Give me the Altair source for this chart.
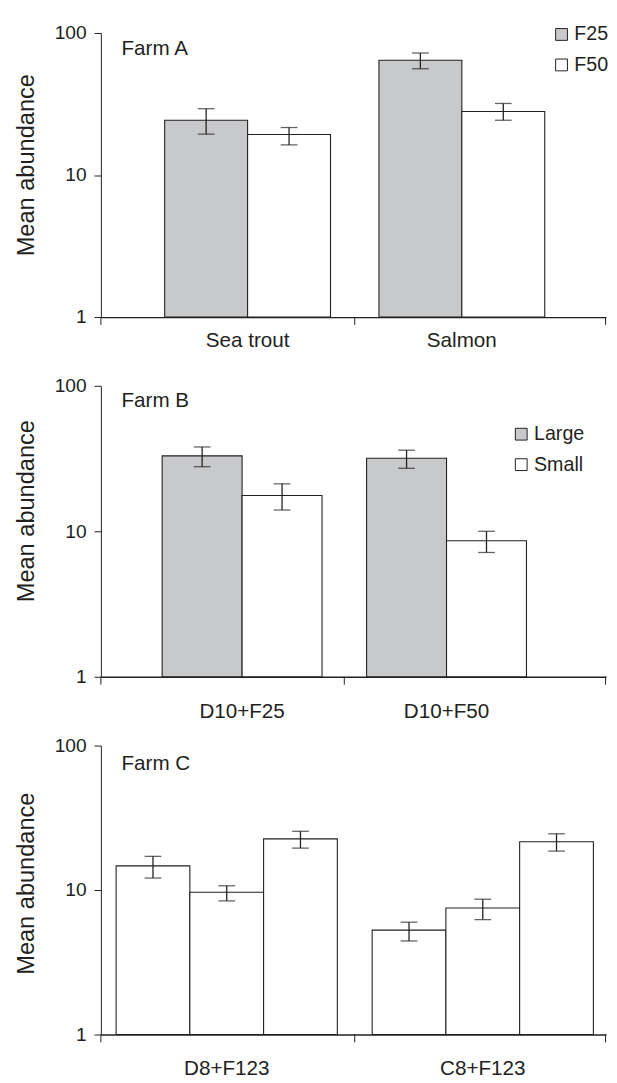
import altair as alt
import pandas as pd

FONT = "Liberation Sans"
INK = "#231f20"
GREY = "#c8c9cb"

# ---- Farm A ----
a_cats = ["Sea trout", "Salmon"]
a_series = ["F25", "F50"]
a_mean = {"F25": [24.3, 64.3], "F50": [19.3, 28.0]}
a_lo = {"F25": [19.4, 56.0], "F50": [16.3, 24.3]}
a_hi = {"F25": [29.3, 72.3], "F50": [21.6, 31.9]}

# ---- Farm B ----
b_cats = ["D10+F25", "D10+F50"]
b_series = ["Large", "Small"]
b_mean = {"Large": [33.0, 31.8], "Small": [17.6, 8.6]}
b_lo = {"Large": [27.8, 27.1], "Small": [14.0, 7.15]}
b_hi = {"Large": [38.0, 36.1], "Small": [21.2, 10.0]}

# ---- Farm C ----
c_cats = ["D8+F123", "C8+F123"]
c_series = ["1", "2", "3"]
c_mean = {"1": [14.7, 5.28], "2": [9.64, 7.5], "3": [22.6, 21.6]}
c_lo = {"1": [12.1, 4.44], "2": [8.41, 6.24], "3": [19.5, 18.6]}
c_hi = {"1": [17.1, 5.99], "2": [10.7, 8.64], "3": [25.5, 24.5]}

farms = ["Farm A", "Farm B", "Farm C"]
y_ticks = [1, 10, 100]

W = 514


def make_df(cats, series, mean, lo, hi):
    rows = []
    for s in series:
        for i, c in enumerate(cats):
            rows.append({"cat": c, "series": s, "mean": mean[s][i],
                         "lo": lo[s][i], "hi": hi[s][i]})
    return pd.DataFrame(rows)


def band_gap_mid(n, pi, po, align):
    step = W / (n - pi + 2 * po)
    start = (W - step * (n - pi)) * align
    bw = step * (1 - pi)
    return start + bw + step * pi / 2


def panel(df, cats, series, colors, farm, H, pi, po, align, legend_xy=None,
          farm_y=22, label_pad=13, title_y=134):
    xs = alt.X("cat:N", sort=cats,
               scale=alt.Scale(paddingInner=pi, paddingOuter=po, align=align),
               axis=alt.Axis(title=None, labelAngle=0, ticks=False,
                             labelPadding=label_pad, labelFontSize=21,
                             domainWidth=1.3))
    xo = alt.XOffset("series:N", sort=series,
                     scale=alt.Scale(paddingInner=0, paddingOuter=0))
    yscale = alt.Scale(type="log", domain=[1, 100], nice=False)
    y = alt.Y("mean:Q", scale=yscale, title="Mean abundance",
              axis=alt.Axis(values=y_ticks, format="d", grid=False,
                            tickSize=7, labelPadding=8, labelFontSize=19.5,
                            titleFontSize=24, titleFontWeight="normal",
                            titlePadding=16, titleY=title_y))
    if colors is None:
        fill = alt.value("white")
    else:
        fill = alt.Fill("series:N", sort=series,
                        scale=alt.Scale(domain=series, range=colors),
                        legend=alt.Legend(orient="none", legendX=legend_xy[0],
                                          legendY=legend_xy[1], title=None,
                                          symbolType="square", symbolSize=144,
                                          symbolStrokeColor=INK,
                                          symbolStrokeWidth=1,
                                          symbolOpacity=1,
                                          labelFontSize=20, labelFont=FONT,
                                          labelColor=INK, rowPadding=11,
                                          labelOffset=3, padding=0))
    base = alt.Chart(df)
    bars = base.mark_bar(stroke=INK, strokeWidth=1.1).encode(
        x=xs, xOffset=xo, y=y, y2=alt.datum(1), fill=fill)
    err = base.mark_rule(color=INK, strokeWidth=1.3).encode(
        x=xs, xOffset=xo,
        y=alt.Y("lo:Q", scale=yscale, title="Mean abundance"),
        y2="hi:Q")
    cap_lo = base.mark_tick(color=INK, thickness=1.3, size=17).encode(
        x=xs, xOffset=xo, y=alt.Y("lo:Q", scale=yscale, title="Mean abundance"))
    cap_hi = base.mark_tick(color=INK, thickness=1.3, size=17).encode(
        x=xs, xOffset=xo, y=alt.Y("hi:Q", scale=yscale, title="Mean abundance"))
    one = alt.Data(values=[{}])
    label = alt.Chart(one).mark_text(text=farm, align="left",
                                     baseline="alphabetic", font=FONT,
                                     fontSize=21, color=INK).encode(
        x=alt.value(21), y=alt.value(farm_y))
    layers = [bars, err, cap_lo, cap_hi, label]
    for xp in [0, band_gap_mid(len(cats), pi, po, align), W - 0.5]:
        layers.append(alt.Chart(one).mark_rule(color=INK, strokeWidth=1).encode(
            x=alt.value(xp), y=alt.value(H), y2=alt.value(H + 8)))
    return alt.layer(*layers).properties(width=W, height=H)


pa = panel(make_df(a_cats, a_series, a_mean, a_lo, a_hi), a_cats, a_series,
           [GREY, "white"], farms[0], 289, 0.226, 0.292, 0.51,
           legend_xy=(458.7, -8.5), farm_y=22, label_pad=13, title_y=134)
pb = panel(make_df(b_cats, b_series, b_mean, b_lo, b_hi), b_cats, b_series,
           [GREY, "white"], farms[1], 296, 0.218, 0.3445, 0.435,
           legend_xy=(417.7, 39.2), farm_y=22, label_pad=24, title_y=127)
pc = panel(make_df(c_cats, c_series, c_mean, c_lo, c_hi), c_cats, c_series,
           None, farms[2], 294, 0.136, 0.0545, 0.546, farm_y=25,
           label_pad=24, title_y=140)

chart = alt.vconcat(pa, pb, pc, spacing=70, bounds="flush").resolve_scale(
    fill="independent", x="independent", xOffset="independent"
).properties(
    padding={"left": 6.5, "top": 6, "right": 0, "bottom": 0}
).configure_view(stroke=None).configure_axis(
    labelFont=FONT, titleFont=FONT, labelColor=INK, titleColor=INK,
    domainColor=INK, tickColor=INK, tickWidth=1, domainWidth=1
)

chart.save("out.html", embed_options={"renderer": "svg", "actions": False})
